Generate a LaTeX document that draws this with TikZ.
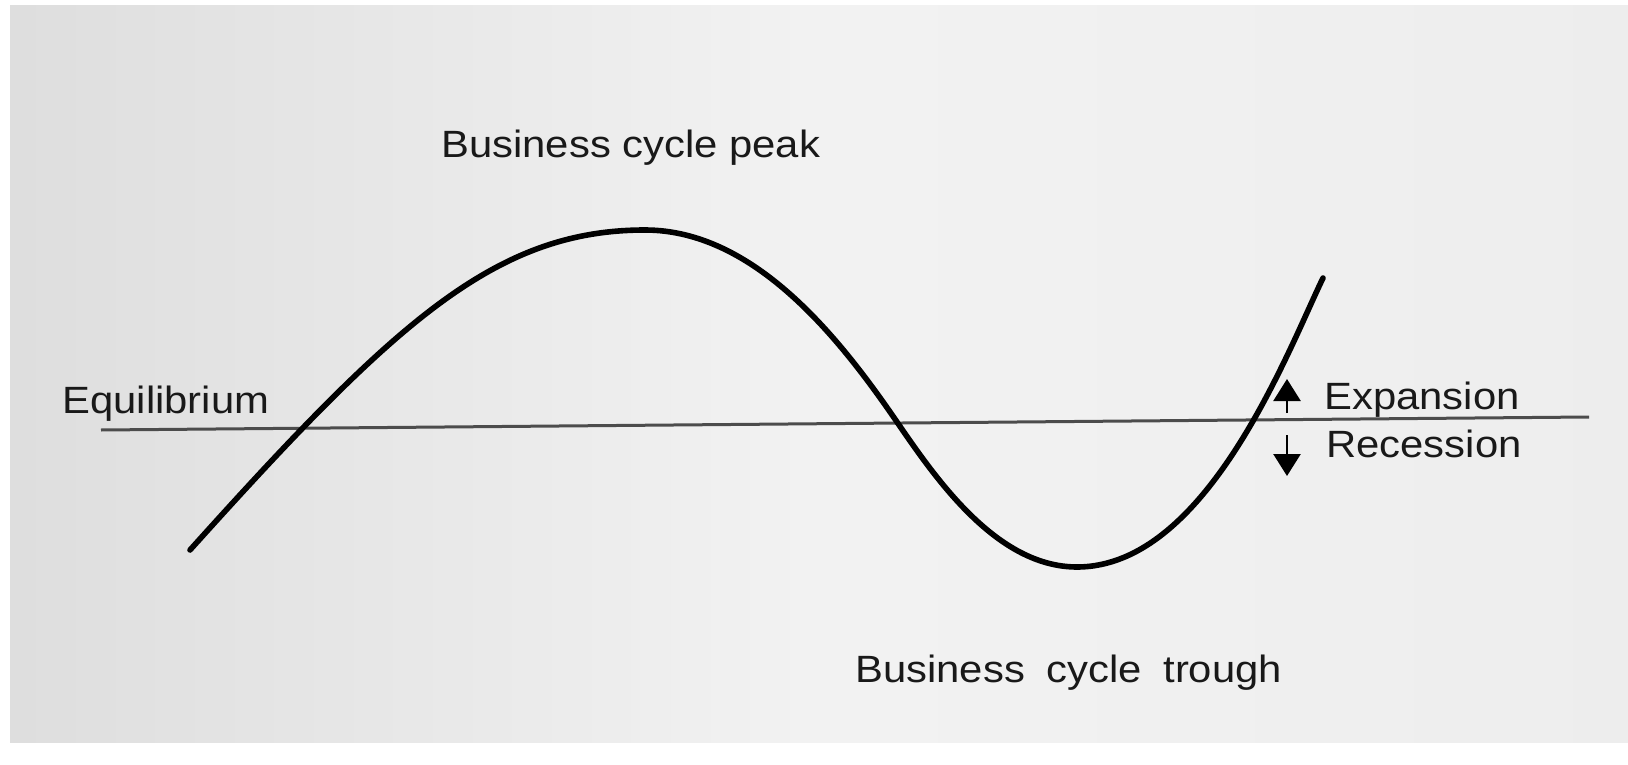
\documentclass[tikz,border=0pt]{standalone}
\usepackage{fontspec}
\setmainfont{Liberation Sans}[FakeStretch=1.1]
\usetikzlibrary{arrows.meta}
\begin{document}
\begin{tikzpicture}[x=0.5pt,y=-0.5pt,
  lbl/.style={font=\fontsize{19pt}{22pt}\selectfont, text=black!90, inner sep=0pt, anchor=base west},
  cycle/.style={line width=2.8pt, line cap=round, line join=round},
  equil/.style={line width=1.5pt, draw=black!70},
  dirarrow/.style={line width=1.3pt, -{Triangle[width=13.5pt,length=11pt]}}]
  % page and paper
  \useasboundingbox (0,0) rectangle (1628,765);
  \fill[white] (0,0) rectangle (1628,765);
  \shade[left color=black!13, right color=black!7, middle color=black!5]
    (10,6) rectangle (1628,742);

  % equilibrium line
  \coordinate (eqL) at (101,430);
  \coordinate (eqR) at (1589,417);
  \draw[equil] (eqL) -- (eqR);

  % the business cycle: rise to the peak, fall through equilibrium
  % to the trough, and rise again
  \coordinate (start) at (190,550);
  \coordinate (top) at (645,230);
  \coordinate (down) at (897,422);
  \coordinate (bottom) at (1077,567);
  \coordinate (finish) at (1323,278);
  \draw[cycle] (start)
    .. controls (395,322) and (495,230) .. (top)
    .. controls (755,230) and (840.5,339.5) .. (down)
    .. controls (936.6,479.8) and (997,567) .. (bottom)
    .. controls (1207,567) and (1288.1,350) .. (finish);

  % labels
  \node[lbl] (peak) at (441,157) {Business cycle peak};
  \node[lbl] (trough) at (855,682) {Business\hspace{5pt} cycle\hspace{5pt} trough};
  \node[lbl] (equ) at (62,413) {Equilibrium};
  \node[lbl] (exp) at (1324,409) {Expansion};
  \node[lbl] (rec) at (1326,457) {Recession};

  % direction arrows
  \coordinate (upA) at (1287,413);
  \coordinate (upB) at (1287,379);
  \coordinate (dnA) at (1287,435);
  \coordinate (dnB) at (1287,476);
  \draw[dirarrow] (upA) -- (upB);
  \draw[dirarrow] (dnA) -- (dnB);
\end{tikzpicture}
\end{document}
